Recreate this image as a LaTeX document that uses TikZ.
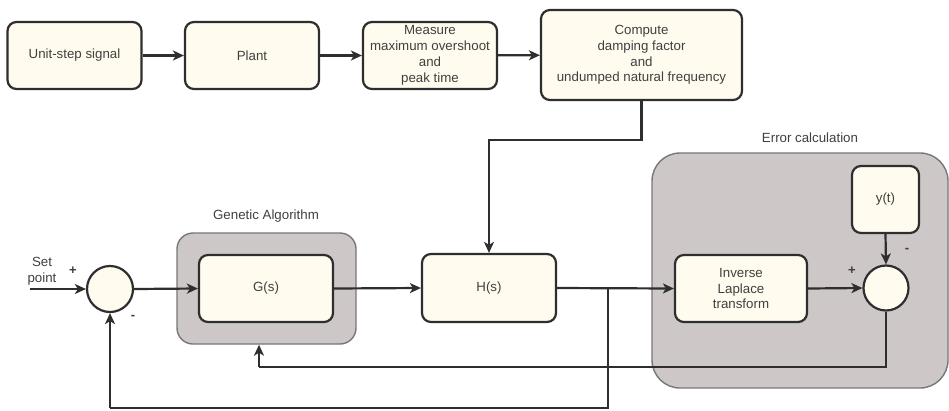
\documentclass[tikz,border=0pt]{standalone}
\usepackage{fontspec}
\setmainfont{Liberation Sans}
\usetikzlibrary{arrows.meta}
\definecolor{boxfill}{HTML}{FFFBEE}
\definecolor{grpfill}{HTML}{CEC7C7}
\definecolor{edge}{HTML}{2E2E2E}
\definecolor{txt}{HTML}{404040}
\begin{document}
\begin{tikzpicture}[x=1pt,y=-1pt,
  every node/.style={font=\fontsize{13.3}{15.8}\selectfont, text=txt, align=center, inner sep=0pt},
  blk/.style={draw=edge, line width=2.2pt, fill=boxfill, rounded corners=9pt},
  grp/.style={draw=edge!65, line width=1.4pt, fill=grpfill},
  sumc/.style={circle, draw=edge, line width=2.2pt, fill=boxfill, minimum size=46pt},
  conn/.style={draw=edge, line width=2.2pt},
  arr/.style={conn, -{Stealth[length=11pt,width=10pt,inset=3pt]}},
  lbl/.style={font=\fontsize{13}{14}\selectfont\bfseries}
]
\useasboundingbox (0,0) rectangle (949,410);
\fill[white] (0,0) rectangle (949,410);

% groups
\node[grp, rounded corners=16pt, minimum width=179pt, minimum height=111pt] (ga) at (266.5,288.5) {};
\node[grp, rounded corners=28pt, minimum width=296pt, minimum height=235pt] (ec) at (800,270.5) {};
\node (galbl) at (266,216) {Genetic Algorithm};
\node (eclbl) at (810,138) {Error calculation};

% top row
\node[blk, minimum width=134pt, minimum height=67pt] (us) at (74.5,55.5) {Unit-step signal};
\node[blk, minimum width=134pt, minimum height=67pt] (pl) at (252,55.5) {Plant};
\node[blk, minimum width=134pt, minimum height=67pt] (me) at (430,55.5) {Measure\\maximum overshoot\\and\\peak time};
\node[blk, minimum width=201pt, minimum height=90pt] (cp) at (641.5,55) {Compute\\damping factor\\and\\undumped natural frequency};

% lower row
\node[sumc] (s1) at (110,289) {};
\node[blk, minimum width=134pt, minimum height=67pt] (gs) at (266,288.5) {G(s)};
\node[blk, minimum width=134pt, minimum height=68pt] (hs) at (489,288) {H(s)};
\node[blk, minimum width=132pt, minimum height=67pt] (il) at (741,288.5) {Inverse\\Laplace\\transform};
\node[blk, minimum width=67pt, minimum height=67pt] (yt) at (885.5,199.5) {y(t)};
\node[sumc, minimum size=45pt] (s2) at (886,288) {};

% texts
\node (sp) at (42,271) {Set\\point};
\node[lbl] (p1) at (73,271) {+};
\node[lbl] (m1) at (133,317) {-};
\node[lbl] (p2) at (852,271) {+};
\node[lbl] (m2) at (907,250) {-};

% coordinates
\coordinate (in) at (30,289);
\coordinate (bend) at (641.5,140);
\coordinate (jn) at (608,288);
\coordinate (fbb) at (608,408);
\coordinate (fbl) at (110,408);
\coordinate (ef) at (886,367);
\coordinate (efl) at (259,367);

% top connectors
\draw[arr] (us) -- (pl);
\draw[arr] (pl) -- (me);
\draw[arr] (me) -- (cp);
\draw[arr] (cp.south) -- (bend) -| (hs.north);

% main loop
\draw[arr] (in) -- (s1.west);
\draw[arr] (s1.east) -- (gs.west);
\draw[arr] (gs.east) -- (hs.west);
\draw[arr] (hs.east) -- (il.west);
\draw[arr] (il.east) -- (s2.west);
\draw[arr] (yt.south) -- (s2.north);
\draw[conn] (jn) -- (fbb) -- (fbl);
\draw[arr] (fbl) -- (s1.south);
\draw[conn] (s2.south) -- (ef) -- (efl);
\draw[arr] (efl) -- (ga.south -| efl);
\end{tikzpicture}
\end{document}
